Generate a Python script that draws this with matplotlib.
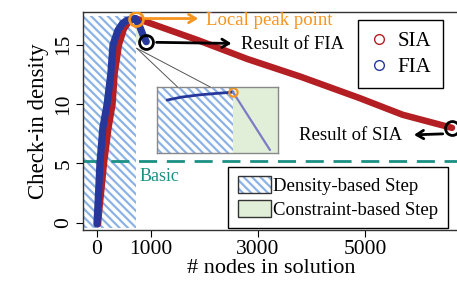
import numpy as np, matplotlib
matplotlib.use("Agg"); import matplotlib.pyplot as plt
from matplotlib.lines import Line2D
from matplotlib.patches import Patch, ConnectionPatch
from matplotlib.legend_handler import HandlerTuple

plt.rcParams['font.family'] = ['Liberation Serif', 'DejaVu Serif']
plt.rcParams['hatch.linewidth'] = 1.6

# data
fia_x = [0, 15, 30, 56, 110, 190, 260, 300, 390, 480, 560, 640, 720, 800, 860, 920]
fia_y = [-0.1, 1.2, 2.5, 5.0, 8.0, 10.0, 12.6, 15.0, 16.2, 16.8, 17.05, 17.15, 17.2, 16.5, 15.8, 15.25]
sia_x = [20, 45, 75, 130, 215, 290, 330, 410, 500, 580, 660, 720, 900, 1900, 2800, 3800, 4900, 5700, 6620]
sia_y = [-0.1, 1.2, 2.5, 5.0, 8.0, 10.0, 12.6, 15.0, 16.3, 16.85, 17.1, 17.2, 16.95, 15.35, 13.8, 12.3, 10.5, 9.1, 8.0]
peak = (720, 17.2)
fia_end = (920, 15.25)
sia_end = (6620, 8.0)
basic = 5.22
step_split = 720
# zoomed detail around the peak (inset)
det_x = [400, 470, 550, 630, 690, 720, 900]
det_y = [16.93, 17.03, 17.1, 17.15, 17.18, 17.2, 15.25]
xticks = [0, 1000, 3000, 5000]
yticks = [0, 5, 10, 15]

red = "#b41f24"; blue = "#27389c"; orange = "#f7941d"; teal = "#1b9084"
hatch_c = "#8cb2e6"; green = "#e2efd8"; hatch = "\\\\\\\\"

fig = plt.figure(figsize=(4.57, 2.83), dpi=100)
ax = fig.add_axes([83/457, 53/283, 377/457, 218/283])
ax.set_xlim(-260, 6770); ax.set_ylim(-0.6, 17.75)

ax.fill_between([-400, step_split], -0.4, 17.4, facecolor="white", edgecolor=hatch_c, hatch=hatch, lw=0, zorder=1)
ax.fill_between([step_split, 860], fia_end[1] - 0.05, 17.4, facecolor=green, lw=0, zorder=1)
ax.axhline(basic, color=teal, lw=2, ls=(0, (6.5, 3.5)), zorder=2)
ax.text(790, basic - 1.3, "Basic", color=teal, fontsize=13, va="center", ha="left")

ax.plot(sia_x, sia_y, color=red, lw=4.7, solid_capstyle="round", zorder=3)
ax.plot(fia_x, fia_y, color=blue, lw=5.2, solid_capstyle="round", zorder=4)

ax.plot(*peak, "o", ms=10, mfc="none", mec=orange, mew=2, zorder=6)
ax.plot(*fia_end, "o", ms=10, mfc="none", mec="black", mew=2, zorder=6)
ax.plot(*sia_end, "o", ms=10, mfc="none", mec="black", mew=2, zorder=6, clip_on=False)

ax.annotate("", xy=(1940, 17.2), xytext=(850, 17.2),
            arrowprops=dict(arrowstyle="->,head_length=0.5,head_width=0.3", color=orange, lw=2))
ax.text(2030, 17.05, "Local peak point", color=orange, fontsize=13.5, va="center")
ax.annotate("", xy=(2560, 15.1), xytext=(1060, 15.2),
            arrowprops=dict(arrowstyle="->,head_length=0.5,head_width=0.3", color="black", lw=2))
ax.text(2680, 15.05, "Result of FIA", fontsize=13.5, va="center")
ax.annotate("", xy=(5860, 7.4), xytext=(6500, 7.5),
            arrowprops=dict(arrowstyle="->,head_length=0.5,head_width=0.3", color="black", lw=2))
ax.text(5700, 7.35, "Result of SIA", fontsize=13.5, va="center", ha="right")

ax.set_xticks(xticks); ax.set_yticks(yticks)
ax.tick_params(direction="out", length=5, width=0.8, labelsize=15.5, pad=2)
for lab in ax.get_yticklabels():
    lab.set_rotation(90); lab.set_va("center")
for s in ax.spines.values():
    s.set_linewidth(1); s.set_color("#333333")
ax.set_xlabel("# nodes in solution", fontsize=16, labelpad=0)
ax.set_ylabel("Check-in density", fontsize=16.5, labelpad=4)

leg1 = ax.legend(handles=[Line2D([], [], ls="none", marker="o", ms=7, mfc="none", mec=red, mew=1),
                          Line2D([], [], ls="none", marker="o", ms=7, mfc="none", mec=blue, mew=1)],
                 labels=["SIA", "FIA"], loc="upper right", bbox_to_anchor=(0.955, 0.963), borderaxespad=0,
                 fontsize=15, frameon=True, fancybox=False, edgecolor="black", framealpha=1,
                 handlelength=0.9, handletextpad=0.45, borderpad=0.55, labelspacing=0.3)
leg1.get_frame().set_linewidth(1)
ax.add_artist(leg1)
frame = Patch(facecolor="none", edgecolor="#333333", lw=1)
leg2 = ax.legend(handles=[(Patch(facecolor="white", edgecolor=hatch_c, hatch=hatch, lw=0), frame),
                          (Patch(facecolor=green, lw=0), frame)],
                 labels=["Density-based Step", "Constraint-based Step"],
                 handler_map={tuple: HandlerTuple(ndivide=1, pad=0)},
                 loc="lower left", bbox_to_anchor=(0.385, 0.009), borderaxespad=0, fontsize=13.5,
                 frameon=True, fancybox=False, edgecolor="black", framealpha=1,
                 handlelength=1.8, handleheight=1.0, handletextpad=0.1, borderpad=0.5, labelspacing=0.25)
leg2.get_frame().set_linewidth(1)

ins = fig.add_axes([157/457, 130/283, 121/457, 66/283])
ins.set_xlim(351, 939); ins.set_ylim(15.15, 17.37)
ins.fill_between([300, step_split], 15, 18, facecolor="white", edgecolor=hatch_c, hatch=hatch, lw=0)
ins.fill_between([step_split, 1000], 15, 18, facecolor=green, lw=0)
ins.plot(det_x[:-1], det_y[:-1], color=blue, lw=2, solid_capstyle="round")
ins.plot(det_x[-2:], det_y[-2:], color="#7c7cc6", lw=1.6, solid_capstyle="round")
ins.plot(*peak, "o", ms=6, mfc="none", mec=orange, mew=1.5, clip_on=False)
ins.set_xticks([]); ins.set_yticks([])
for s in ins.spines.values():
    s.set_linewidth(1); s.set_color("#888888")
for fx in (0.17, 0.44):
    fig.add_artist(ConnectionPatch(xyA=(740, 14.7), coordsA=ax.transData, xyB=(fx, 1.0), coordsB=ins.transAxes,
                                   color="#555555", lw=0.7))

fig.savefig("out.png", dpi=100)
